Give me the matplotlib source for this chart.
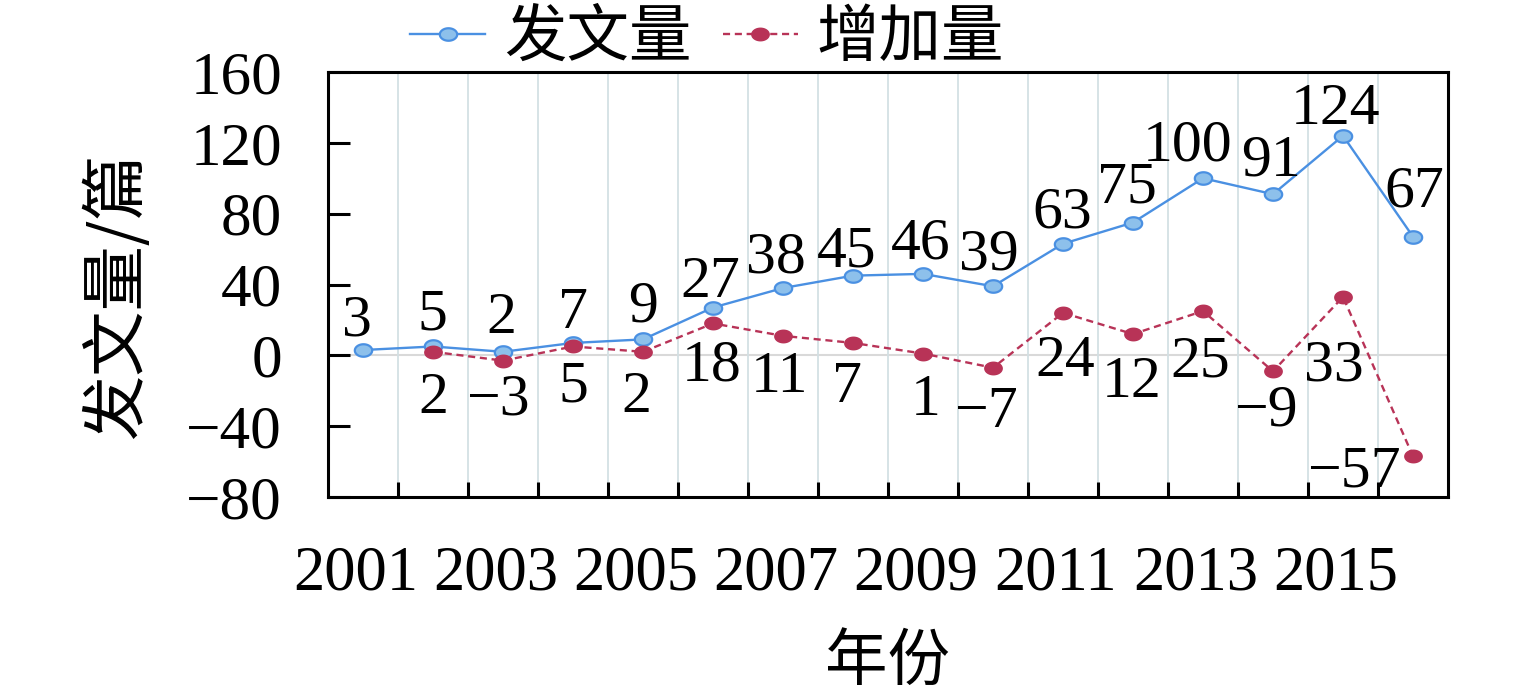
import matplotlib
matplotlib.use("Agg")
import numpy as np
import matplotlib.pyplot as plt
import matplotlib.transforms as mtransforms
from matplotlib.ticker import FixedLocator
from matplotlib.path import Path

years = [2001, 2002, 2003, 2004, 2005, 2006, 2007, 2008,
         2009, 2010, 2011, 2012, 2013, 2014, 2015, 2016]
papers = [3, 5, 2, 7, 9, 27, 38, 45, 46, 39, 63, 75, 100, 91, 124, 67]
increase = [None, 2, -3, 5, 2, 18, 11, 7, 1, -7, 24, 12, 25, -9, 33, -57]
yticks = [-80, -40, 0, 40, 80, 120, 160]
xtick_labels = ["2001", "2003", "2005", "2007", "2009", "2011", "2013", "2015"]

name_papers = "发文量"
name_increase = "增加量"
xlabel = "年份"
ylabel = "发文量/篇"

CJK = ["Noto Sans CJK SC", "DejaVu Sans"]
NUM = ["Liberation Serif", "DejaVu Serif"]
plt.rcParams["axes.unicode_minus"] = True

W, H = 1535, 696
fig = plt.figure(figsize=(W / 100, H / 100), dpi=100)
ax = fig.add_axes([328 / W, 1 - 497 / H, 1120 / W, 425 / H])

x = list(range(len(years)))
blue = "#4A90E2"
blue_face = "#8DC0EB"
red = "#B83357"

# slightly oval marker (wider than tall)
t = np.linspace(0, 2 * np.pi, 49)
ell = Path(np.column_stack([np.cos(t), 0.72 * np.sin(t)]), closed=True)
MS = 12.5

# zero line and vertical grid
ax.axhline(0, color="#D9D9D9", lw=1.5, zorder=1)
for b in [i + 0.5 for i in range(len(years) - 1)]:
    ax.axvline(b, color="#D3E0E4", lw=1.3, zorder=1)

ax.plot(x, papers, color=blue, lw=1.7, marker=ell, ms=MS,
        mfc=blue_face, mec=blue, mew=1.6, zorder=3, label=name_papers)
xi = [i for i, v in zip(x, increase) if v is not None]
vi = [v for v in increase if v is not None]
ax.plot(xi, vi, color=red, lw=1.7, ls=(0, (3, 2)), marker=ell, ms=MS,
        mfc=red, mec=red, mew=1.0, zorder=3, label=name_increase)

ax.set_xlim(-0.5, len(years) - 0.5)
ax.set_ylim(-80, 160)

# data labels (pixel offsets)
top_off = [(-6, 35), (-1, 37), (-2, 39), (0, 35), (0, 38), (-3, 31), (-7, 36),
           (-6, 30), (-2, 36), (-4, 37), (-1, 37), (-6, 41), (-15, 38),
           (-2, 39), (-7, 32), (1, 51)]
bot_off = [None, (0, -41), (-5, -33), (0, -35), (-7, -40), (-1, -37), (-4, -36),
           (-6, -39), (3, -41), (-7, -39), (2, -43), (-1, -42), (-3, -45),
           (-7, -34), (-9, -63), (-59, -10)]
for i, v in enumerate(papers):
    ax.annotate(f"{v}", (i, v), xytext=top_off[i], textcoords="offset pixels",
                ha="center", va="center_baseline", fontsize=43, family=NUM,
                zorder=4)
for i, v in enumerate(increase):
    if v is None:
        continue
    s = f"{v}".replace("-", "\u2212")
    ax.annotate(s, (i, v), xytext=bot_off[i], textcoords="offset pixels",
                ha="center", va="center_baseline", fontsize=43, family=NUM,
                zorder=4)

# axes styling
for sp in ax.spines.values():
    sp.set_linewidth(2.2)
    sp.set_color("black")
ax.xaxis.set_major_locator(FixedLocator([i + 0.5 for i in range(len(years) - 1)]))
ax.xaxis.set_major_formatter(plt.NullFormatter())
ax.tick_params(axis="x", which="major", direction="in", length=11, width=2.2)
ax.xaxis.set_minor_locator(FixedLocator(list(range(0, len(years), 2))))
ax.set_xticklabels(xtick_labels, minor=True)
ax.tick_params(axis="x", which="minor", length=0, pad=35, labelsize=45)
shift = mtransforms.ScaledTranslation(-7 / 100, 0, fig.dpi_scale_trans)
for tl in ax.get_xticklabels(minor=True):
    tl.set_family(NUM)
    tl.set_transform(tl.get_transform() + shift)

ax.set_yticks(yticks)
ax.set_yticklabels([f"{v}".replace("-", "\u2212") for v in yticks])
ax.tick_params(axis="y", direction="in", length=16, width=2.2, pad=33, labelsize=44)
for tl in ax.get_yticklabels():
    tl.set_family(NUM)

fig.text(117 / W, 1 - 296 / H, ylabel, rotation=90, ha="center", va="center",
         fontsize=47, family=CJK)
fig.text(887 / W, 1 - 662 / H, xlabel, ha="center", va="center",
         fontsize=45, family=CJK)

leg = fig.legend(loc="center", bbox_to_anchor=(707 / W, 1 - 38 / H), ncol=2,
                 frameon=False, prop={"family": CJK, "size": 45},
                 handlelength=1.2, handletextpad=0.3, columnspacing=0.5,
                 borderpad=0, borderaxespad=0)

fig.savefig("out.png", dpi=100)
